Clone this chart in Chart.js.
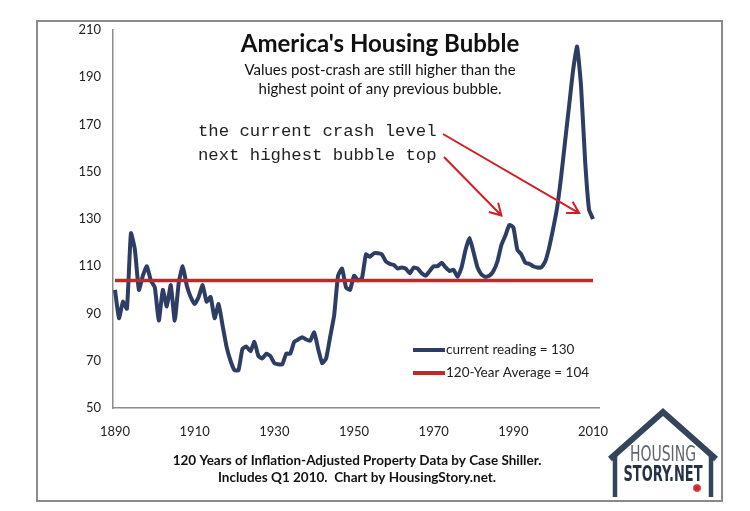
<!DOCTYPE html>
<html>
<head>
<meta charset="utf-8">
<script src="https://cdn.jsdelivr.net/npm/chart.js@4.4.1/dist/chart.umd.min.js"></script>
<style>
  body { margin: 0; background: #fff; }
  canvas { display: block; }
</style>
</head>
<body>
<canvas id="housing" width="750" height="511"></canvas>
<script>
// real home price index, one value per year from 1890 to 2010
const startYear = 1890;
const indexValues = [
  100, 88, 95, 92, 124, 117, 100, 106, 110, 104,          // 1890s
  101, 87, 100, 93, 102, 87, 103, 110, 102, 97,           // 1900s
  94, 97, 102, 95, 97, 88, 94, 85, 76, 70,                // 1910s
  66, 66, 75, 76, 74, 78, 72, 71, 73, 72,                 // 1920s
  69, 68.5, 68.5, 73, 73, 78, 79, 80, 79, 78.5,           // 1930s
  82, 75, 69, 71, 80, 89, 106, 109, 101, 100,             // 1940s
  106, 104, 105, 115, 114, 115.5, 115.5, 115, 112, 111,   // 1950s
  110.5, 109, 109.5, 109, 107, 109.5, 109, 107, 106, 108, // 1960s
  110, 110, 111.5, 109.5, 108, 108.5, 105.5, 109.5, 117, 122, // 1970s
  116, 109.5, 106.5, 105.5, 106, 108, 112, 119, 123, 127.5,   // 1980s
  126.5, 117, 115, 111.5, 111, 110, 109.5, 109.5, 112, 118,   // 1990s
  126, 135, 148, 163, 178, 193, 203, 186, 155, 134,       // 2000s
  130                                                     // 2010
];
const years = indexValues.map((v, i) => startYear + i);

const averageValue = 104;
const averageYears = [1890, 2010];

const xTicks = [1890, 1910, 1930, 1950, 1970, 1990, 2010];
const yTicks = [50, 70, 90, 110, 130, 150, 170, 190, 210];

const seriesLabels = ['current reading = 130', '120-Year Average = 104'];
// where the two red arrows point (year, index)
const arrowTips = [[2006.5, 132.5], [1987, 131.5]];

const navy = '#2e3d63';
const red = '#c1272d';
const sans = "Lato, 'Open Sans', sans-serif";

Chart.defaults.font.family = sans;
Chart.defaults.color = '#222';

function arrow(ctx, x1, y1, x2, y2) {
  const a = Math.atan2(y2 - y1, x2 - x1);
  ctx.beginPath();
  ctx.moveTo(x1, y1);
  ctx.lineTo(x2, y2);
  ctx.moveTo(x2 - 13 * Math.cos(a - Math.PI / 6), y2 - 13 * Math.sin(a - Math.PI / 6));
  ctx.lineTo(x2, y2);
  ctx.lineTo(x2 - 13 * Math.cos(a + Math.PI / 6), y2 - 13 * Math.sin(a + Math.PI / 6));
  ctx.stroke();
}

function fitText(ctx, text, cx, y, width) {
  const w = ctx.measureText(text).width;
  ctx.save();
  ctx.translate(cx, y);
  ctx.scale(width / w, 1);
  ctx.fillText(text, 0, 0);
  ctx.restore();
}

const frame = {
  id: 'frame',
  beforeDraw(chart) {
    const ctx = chart.ctx;
    ctx.save();
    ctx.fillStyle = '#fff';
    ctx.fillRect(0, 0, chart.width, chart.height);
    ctx.strokeStyle = '#8a8a8a';
    ctx.lineWidth = 2;
    ctx.strokeRect(37, 21, 685, 480);
    ctx.restore();
  }
};

const notes = {
  id: 'notes',
  afterDraw(chart) {
    const ctx = chart.ctx;
    const xs = chart.scales.x, ys = chart.scales.y;
    ctx.save();
    ctx.textAlign = 'center';
    ctx.textBaseline = 'middle';
    ctx.fillStyle = '#111';
    ctx.font = 'bold 24px ' + sans;
    ctx.fillText("America's Housing Bubble", 380, 44);
    ctx.font = '15px ' + sans;
    ctx.fillText('Values post-crash are still higher than the', 380, 70);
    ctx.fillText('highest point of any previous bubble.', 380, 89);

    ctx.textAlign = 'left';
    ctx.font = "17.3px 'Liberation Mono', 'DejaVu Sans Mono', monospace";
    ctx.fillStyle = '#222';
    ctx.fillText('the current crash level', 198, 131);
    ctx.fillText('next highest bubble top', 198, 155);

    ctx.strokeStyle = '#d21f26';
    ctx.lineWidth = 2;
    arrow(ctx, 443, 134, xs.getPixelForValue(arrowTips[0][0]), ys.getPixelForValue(arrowTips[0][1]));
    arrow(ctx, 444, 157, xs.getPixelForValue(arrowTips[1][0]), ys.getPixelForValue(arrowTips[1][1]));

    // legend inside the plot
    ctx.lineWidth = 4;
    ctx.strokeStyle = navy;
    ctx.beginPath(); ctx.moveTo(413, 350); ctx.lineTo(445, 350); ctx.stroke();
    ctx.strokeStyle = red;
    ctx.beginPath(); ctx.moveTo(413, 373); ctx.lineTo(445, 373); ctx.stroke();
    ctx.fillStyle = '#222';
    ctx.font = '13.5px ' + sans;
    ctx.fillText(seriesLabels[0], 446, 350);
    ctx.fillText(seriesLabels[1], 446, 373);

    // caption
    ctx.textAlign = 'center';
    ctx.fillStyle = '#111';
    ctx.font = 'bold 13.5px ' + sans;
    ctx.fillText('120 Years of Inflation-Adjusted Property Data by Case Shiller.', 357, 461);
    ctx.fillText('Includes Q1 2010.  Chart by HousingStory.net.', 357, 478);

    // logo
    ctx.strokeStyle = '#34455a';
    ctx.lineCap = 'butt';
    ctx.lineJoin = 'miter';
    ctx.lineWidth = 6;
    ctx.beginPath(); ctx.moveTo(610, 459); ctx.lineTo(663, 412); ctx.lineTo(716, 459); ctx.stroke();
    ctx.lineWidth = 4.5;
    ctx.beginPath(); ctx.moveTo(615, 453); ctx.lineTo(615, 497); ctx.stroke();
    ctx.beginPath(); ctx.moveTo(711, 453); ctx.lineTo(711, 497); ctx.stroke();
    ctx.textBaseline = 'alphabetic';
    ctx.fillStyle = '#5f656d';
    ctx.font = "22px 'DejaVu Sans Condensed', 'Liberation Sans Narrow', sans-serif";
    fitText(ctx, 'HOUSING', 663, 461, 66);
    ctx.fillStyle = '#243246';
    ctx.font = "bold 21px 'DejaVu Sans Condensed', 'Liberation Sans Narrow', sans-serif";
    fitText(ctx, 'STORY.NET', 663, 481, 79);
    ctx.strokeStyle = '#d3202a';
    ctx.lineWidth = 1.5;
    for (let k = 0; k < 6; k++) {
      const a = k * Math.PI / 6;
      ctx.beginPath();
      ctx.moveTo(697 - 4 * Math.cos(a), 488 - 4 * Math.sin(a));
      ctx.lineTo(697 + 4 * Math.cos(a), 488 + 4 * Math.sin(a));
      ctx.stroke();
    }
    ctx.restore();
  }
};

new Chart(document.getElementById('housing'), {
  type: 'line',
  data: {
    datasets: [{
      label: seriesLabels[0],
      data: years.map((y, i) => ({ x: y, y: indexValues[i] })),
      borderColor: navy,
      borderWidth: 4,
      pointRadius: 0,
      tension: 0.15,
      borderJoinStyle: 'round',
      order: 2
    }, {
      label: seriesLabels[1],
      data: averageYears.map(y => ({ x: y, y: averageValue })),
      borderColor: red,
      borderWidth: 3.5,
      pointRadius: 0,
      order: 1
    }]
  },
  options: {
    responsive: false,
    animation: false,
    devicePixelRatio: 1,
    layout: { padding: { left: 60, top: 30, right: 151, bottom: 0 } },
    plugins: { legend: { display: false }, tooltip: { enabled: false } },
    scales: {
      x: {
        type: 'linear',
        min: 1889.5,
        max: 2011.5,
        afterBuildTicks: s => { s.ticks = xTicks.map(v => ({ value: v })); },
        afterFit: s => { s.height = 103; },
        grid: { display: false, drawTicks: false },
        border: { color: '#8c8c8c', width: 1.5 },
        ticks: { padding: 16, font: { size: 13 }, color: '#222', maxRotation: 0, autoSkip: false, callback: v => String(v) }
      },
      y: {
        min: 50,
        max: 210,
        afterBuildTicks: s => { s.ticks = yTicks.map(v => ({ value: v })); },
        afterFit: s => { s.width = 53; },
        grid: { display: false, drawTicks: false },
        border: { color: '#8c8c8c', width: 1.5 },
        ticks: { padding: 12, font: { size: 13 }, color: '#222' }
      }
    }
  },
  plugins: [frame, notes]
});
</script>
</body>
</html>
